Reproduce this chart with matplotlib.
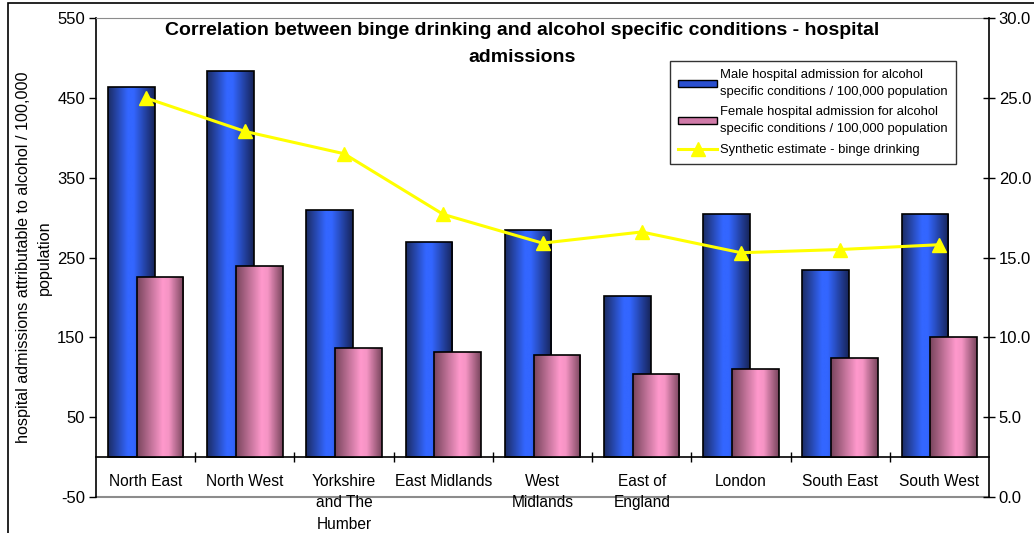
import numpy as np
import matplotlib
matplotlib.use("Agg")
import matplotlib.pyplot as plt
from matplotlib.colors import LinearSegmentedColormap
from matplotlib.patches import Rectangle
from matplotlib.lines import Line2D

plt.rcParams["font.family"] = ["Liberation Sans", "DejaVu Sans"]
plt.rcParams["axes.unicode_minus"] = False

regions = ["North East", "North West", "Yorkshire\nand The\nHumber", "East Midlands",
           "West\nMidlands", "East of\nEngland", "London", "South East", "South West"]
male_admissions = [464, 484, 310, 269, 284, 202, 305, 234, 305]
female_admissions = [225, 239, 137, 132, 128, 104, 110, 124, 150]
binge_estimate = [25.0, 22.9, 21.5, 17.7, 15.9, 16.6, 15.3, 15.5, 15.8]

male_label = "Male hospital admission for alcohol\nspecific conditions / 100,000 population"
female_label = "Female hospital admission for alcohol\nspecific conditions / 100,000 population"
line_label = "Synthetic estimate - binge drinking"

blue_cmap = LinearSegmentedColormap.from_list(
    "blue_cyl", [(0, "#1c2d66"), (0.42, "#3366ff"), (0.55, "#3366ff"), (1, "#17255a")])
pink_cmap = LinearSegmentedColormap.from_list(
    "pink_cyl", [(0, "#7a465e"), (0.55, "#ff99cc"), (0.68, "#f594c4"), (1, "#7a465e")])


def gradient_bars(ax, x, heights, width, cmap, z):
    bars = ax.bar(x, heights, width, facecolor="none", edgecolor="black",
                  linewidth=1.2, zorder=z + 0.5)
    grad = np.linspace(0, 1, 64).reshape(1, -1)
    for b in bars:
        x0, y0 = b.get_x(), b.get_y()
        im = ax.imshow(grad, cmap=cmap, aspect="auto", zorder=z,
                       extent=(x0, x0 + b.get_width(), y0, y0 + b.get_height()))
        im.set_clip_path(b)
    return bars


fig = plt.figure(figsize=(10.34, 5.33), dpi=100)
ax = fig.add_axes([96 / 1034, 1 - 497 / 533, (989 - 96) / 1034, (497 - 18) / 533])

x = np.arange(len(regions))
gradient_bars(ax, x - 0.145, male_admissions, 0.47, blue_cmap, 2)
gradient_bars(ax, x + 0.145, female_admissions, 0.47, pink_cmap, 3)

ax.set_xlim(-0.5, len(regions) - 0.5)
ax.set_ylim(-50, 550)
ax.set_yticks(np.arange(-50, 551, 100))
ax.tick_params(axis="y", direction="out", length=5, width=1, labelsize=12, pad=3)

ax.spines["bottom"].set_position(("data", 0))
ax.spines["bottom"].set_linewidth(1.2)
ax.set_xticks(x)
ax.set_xticklabels(regions)
ax.set_xticks(np.arange(0.5, len(regions) - 1, 1), minor=True)
ax.tick_params(axis="x", which="major", length=0, labelsize=11.2, pad=12)
ax.tick_params(axis="x", which="minor", direction="inout", length=7, width=1)
for lab in ax.get_xticklabels():
    lab.set_linespacing(1.55)
    lab.set_verticalalignment("top")

ax.spines["top"].set_color("#8c8c8c")
ax.spines["left"].set_linewidth(1.2)
ax.spines["right"].set_visible(False)
ax.axhline(-50, color="#8c8c8c", linewidth=1.5, clip_on=False, zorder=1)

ax.set_ylabel("hospital admissions attributable to alcohol / 100,000\npopulation",
              fontsize=11.6, labelpad=4, linespacing=1.45)

ax2 = ax.twinx()
ax2.plot(x, binge_estimate, color="#ffff00", linewidth=2.2, marker="^",
         markersize=10.5, zorder=5)
ax2.set_ylim(0, 30)
ax2.set_yticks(np.arange(0, 30.1, 5))
ax2.set_yticklabels([f"{v:.1f}" for v in np.arange(0, 30.1, 5)])
ax2.tick_params(axis="y", direction="inout", length=8, width=1, labelsize=12, pad=3)
for s in ["top", "bottom", "left"]:
    ax2.spines[s].set_visible(False)
ax2.spines["right"].set_linewidth(1.2)

handles = [
    Rectangle((0, 0), 1, 1, facecolor="#2a4fcf", edgecolor="black", linewidth=1),
    Rectangle((0, 0), 1, 1, facecolor="#d07aa8", edgecolor="black", linewidth=1),
    Line2D([], [], color="#ffff00", linewidth=2.2, marker="^", markersize=10),
]
leg = ax2.legend(handles, [male_label, female_label, line_label],
                 loc="upper left", bbox_to_anchor=(0.643, 0.91), fontsize=9.4,
                 frameon=True, fancybox=False, edgecolor="black",
                 handlelength=3.0, handleheight=0.5, handletextpad=0.25,
                 borderpad=0.6, labelspacing=0.65, borderaxespad=0)
leg.get_frame().set_linewidth(1)
for t in leg.get_texts():
    t.set_linespacing(1.55)

fig.text(522 / 1034, 1 - 22 / 533,
         "Correlation between binge drinking and alcohol specific conditions - hospital\nadmissions",
         ha="center", va="top", fontsize=14, fontweight="bold", linespacing=1.8)

fig.patches.append(Rectangle((8 / 1034, -0.5), 2, 0.5 + 1 - 3 / 533, fill=False,
                             edgecolor="black", linewidth=1.2,
                             transform=fig.transFigure, figure=fig))

fig.savefig("out.png", dpi=100)
